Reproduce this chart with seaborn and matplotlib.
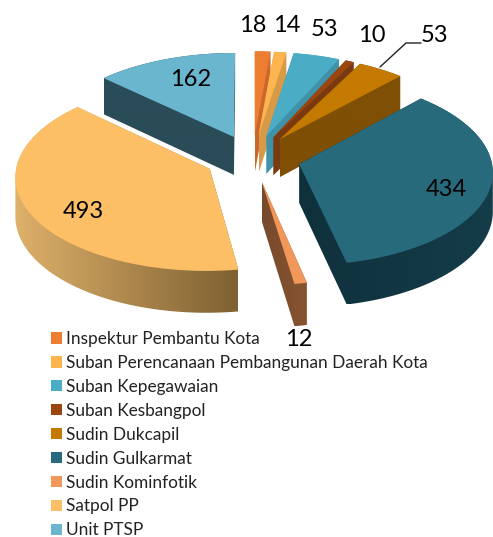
import numpy as np
import matplotlib
matplotlib.use("Agg")
import matplotlib.pyplot as plt
import seaborn as sns
from matplotlib.colors import LinearSegmentedColormap
from matplotlib.patches import Patch, Polygon
from matplotlib.path import Path

units = ['Inspektur Pembantu Kota', 'Suban Perencanaan Pembangunan Daerah Kota',
         'Suban Kepegawaian', 'Suban Kesbangpol', 'Sudin Dukcapil', 'Sudin Gulkarmat',
         'Sudin Kominfotik', 'Satpol PP', 'Unit PTSP']
counts = [18, 14, 53, 10, 53, 434, 12, 493, 162]

top_colors = ['#ED7D31', '#FFB54F', '#4BACC6', '#9C460F', '#C47A00', '#276A7C',
              '#F1975A', '#FDBF66', '#6BB6CF']
side_left = ['#C9682A', '#D99A47', '#3F92A8', '#7A3A10', '#7F4F05', '#0F313C',
             '#774A2C', '#DDB06A', '#2A4C58']
side_right = ['#C9682A', '#D99A47', '#3F92A8', '#7A3A10', '#7F4F05', '#143C49',
              '#875430', '#7F6132', '#2A4C58']
label_xy = [(253, 25), (287, 25), (325, 29), (372, 35), (435, 35), (446, 190),
            (299, 340), (83, 211), (191, 79)]

# projection of the pie plane to pixels
CX, CY, AX_X, AX_Y, K, DEPTH = 252.6, 158, 192, 93, 0.072, 38.5


def project(x, y):
    w = 1 / (1 + K * y)
    return CX + AX_X * x * w, CY - AX_Y * y * w, DEPTH * w


def hull(pts):
    pts = sorted(set(map(tuple, np.round(pts, 3))))
    def half(seq):
        out = []
        for p in seq:
            while len(out) > 1 and ((out[-1][0] - out[-2][0]) * (p[1] - out[-2][1])
                                    - (out[-1][1] - out[-2][1]) * (p[0] - out[-2][0])) <= 0:
                out.pop()
            out.append(p)
        return out[:-1]
    return np.array(half(pts) + half(pts[::-1]))


sns.set_theme(style='white')
plt.rcParams['font.family'] = ['Lato', 'DejaVu Sans']

fig = plt.figure(figsize=(4.93, 5.37), dpi=100)
ax = fig.add_axes([0, 0, 1, 1])

wedges, _ = ax.pie(counts, explode=[0.25] * len(counts), startangle=90, counterclock=False,
                   colors=sns.color_palette(top_colors))

faces = []
for i, w in enumerate(wedges):
    a = np.radians(np.linspace(w.theta1, w.theta2, 90))
    cx, cy = w.center
    xs = np.r_[cx, cx + w.r * np.cos(a)]
    ys = np.r_[cy, cy + w.r * np.sin(a)]
    px, py, d = project(xs, ys)
    faces.append((py[0], i, np.c_[px, py], np.c_[px, py + d]))
    w.remove()

# back slices first
for _, i, top, bottom in sorted(faces, key=lambda f: f[0]):
    outline = hull(np.r_[top, bottom])
    x0, x1 = outline[:, 0].min(), outline[:, 0].max()
    cmap = LinearSegmentedColormap.from_list('side', [side_left[i], side_right[i]])
    im = ax.imshow(np.linspace(0, 1, 64)[None, :], cmap=cmap, aspect='auto', zorder=2 + i * 0.01,
                   extent=(x0, x1, outline[:, 1].max(), outline[:, 1].min()))
    im.set_clip_path(Path(np.r_[outline, outline[:1]], closed=True), ax.transData)
    ax.add_patch(Polygon(top, closed=True, fc=top_colors[i], ec='none', zorder=2.5 + i * 0.01))

ax.plot([380, 406, 421], [67, 43, 43], color='#222222', lw=1, zorder=4)
for (x, y), v in zip(label_xy, counts):
    ax.text(x, y, str(v), fontsize=17, color='black', ha='center', va='center', zorder=5)

handles = [Patch(fc=c, ec='none') for c in top_colors]
ax.legend(handles, units, loc='upper left', bbox_to_anchor=(51 / 493, 1 - 331 / 537),
          bbox_transform=fig.transFigure, frameon=False, fontsize=12.4, borderpad=0, borderaxespad=0,
          handlelength=0.64, handleheight=0.64, handletextpad=0.22, labelspacing=0.46,
          labelcolor='#222222')

ax.set_xlim(0, 493)
ax.set_ylim(537, 0)
ax.set_aspect('auto')
ax.axis('off')
fig.savefig('out.png', dpi=100)
